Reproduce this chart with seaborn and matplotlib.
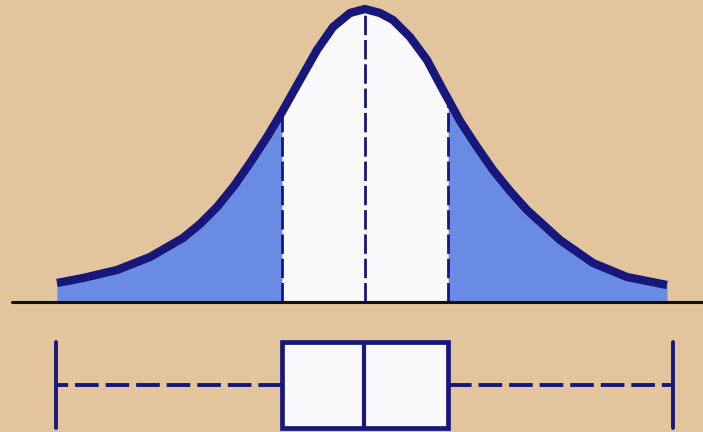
import numpy as np
import pandas as pd
import matplotlib
matplotlib.use("Agg")
import matplotlib.pyplot as plt
import seaborn as sns

# ---- data (x in pixel-like units, height above baseline) ----
curve_x = [57, 83, 117, 150, 183, 200, 217, 234, 250, 267, 282, 300, 317, 333, 350, 365,
           380, 393, 410, 427, 443, 448, 460, 477, 493, 510, 527, 560, 593, 627, 667]
curve_h = [19, 24, 32, 45, 64, 78, 95, 116, 139, 165, 190, 222, 252, 275, 289, 293,
           289, 282, 265, 242, 212, 203, 181, 155, 132, 111, 92, 62, 39, 25, 17]

q1_x, median_x, q3_x = 282, 365, 448
box_values = [56, 282, 364, 448, 673]   # min, Q1, median, Q3, max
box_level = -83                          # vertical position of the box plot

# ---- styles ----
BG = "#E2C49D"
NAVY = "#17177C"
BLUE = "#6A8BE4"
WHITE = "#FAFAFC"

plt.rcParams["lines.scale_dashes"] = False
sns.set_style("white")

fig = plt.figure(figsize=(7.03, 4.32), dpi=100, facecolor=BG)
ax = fig.add_axes([0, 0, 1, 1])
ax.set_facecolor(BG)

x = np.array(curve_x, dtype=float)
h = np.array(curve_h, dtype=float)

# shaded tails and white middle
ax.fill_between(x, 0, h, where=x <= q1_x, color=BLUE, lw=0, zorder=1)
ax.fill_between(x, 0, h, where=x >= q3_x, color=BLUE, lw=0, zorder=1)
ax.fill_between(x, 0, h, where=(x >= q1_x) & (x <= q3_x), color=WHITE, lw=0, zorder=1)

# dashed vertical lines at Q1, median, Q3
for xv in (q1_x, median_x, q3_x):
    top = h[list(curve_x).index(xv)]
    ax.vlines(xv, 0, top, colors=NAVY, linewidth=2.0,
              linestyles=[(0, (14, 3.5))], zorder=2)

# the curve
sns.lineplot(x=curve_x, y=curve_h, ax=ax, color=NAVY, linewidth=6.0,
             sort=True, zorder=3, solid_capstyle="butt", solid_joinstyle="round")

# baseline
ax.axhline(0, xmin=12 / 703, xmax=1, color="#111111", linewidth=2.2, zorder=4)

# box plot
sns.boxplot(x=box_values, y=[box_level] * len(box_values), orient="y",
            native_scale=True, width=86, whis=(0, 100), ax=ax,
            color=WHITE, saturation=1, linecolor=NAVY, linewidth=3.4,
            capwidths=86,
            whiskerprops={"linestyle": (0, (17, 5)), "linewidth": 2.8, "color": NAVY},
            capprops={"linewidth": 2.8, "color": NAVY},
            medianprops={"linewidth": 3.0, "color": NAVY},
            boxprops={"linewidth": 3.4, "edgecolor": NAVY})

ax.set_xlim(0, 703)
ax.set_ylim(-130, 302)
ax.set_axis_off()

fig.savefig("out.png", dpi=100, facecolor=BG)
